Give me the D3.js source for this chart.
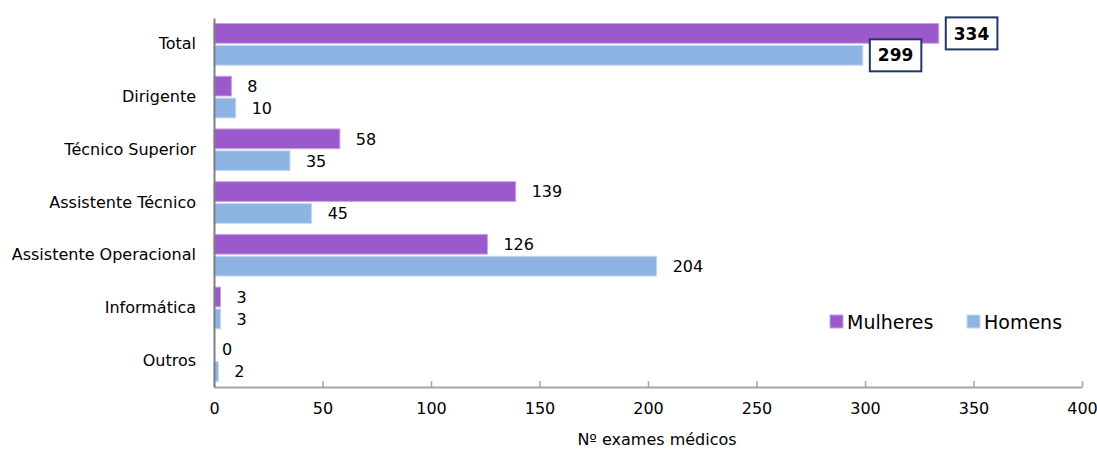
<!DOCTYPE html>
<html><head><meta charset="utf-8">
<script src="https://cdn.jsdelivr.net/npm/d3@7/dist/d3.min.js"></script>
<style>
body{margin:0;background:#fff;}
svg{display:block;font-family:"DejaVu Sans",sans-serif;}
</style></head>
<body><svg id="c" width="1097" height="453"></svg>
<script>
const categories = ["Total","Dirigente","Técnico Superior","Assistente Técnico","Assistente Operacional","Informática","Outros"];
const seriesNames = ["Mulheres","Homens"];
const mulheres = [334, 8, 58, 139, 126, 3, 0];
const homens = [299, 10, 35, 45, 204, 3, 2];
const xTicks = [0,50,100,150,200,250,300,350,400];
const axisTitle = "Nº exames médicos";
const colors = {Mulheres:"#9B59CC", Homens:"#8DB4E2"};
const strokes = {Mulheres:"#C7A3E3", Homens:"#C3D8F1"};

const svg = d3.select("#c");
const m = {left:214, right:1082, top:18, bottom:387};
const x = d3.scaleLinear().domain([0,400]).range([m.left, m.right]);
const y = d3.scaleBand().domain(categories).range([m.top, m.bottom]).paddingInner(0.21).paddingOuter(0.105);
const ys = d3.scaleBand().domain(seriesNames).range([0, y.bandwidth()]).paddingInner(0.1);

const rows = categories.map((c,i)=>({cat:c, vals:[{s:"Mulheres",v:mulheres[i]},{s:"Homens",v:homens[i]}]}));

// bars
const g = svg.append("g");
rows.forEach(r=>{
  r.vals.forEach(d=>{
    if(d.v>0){
      g.append("rect")
        .attr("x", x(0)).attr("y", y(r.cat)+ys(d.s))
        .attr("width", x(d.v)-x(0)).attr("height", ys.bandwidth())
        .attr("fill", colors[d.s]).attr("stroke", strokes[d.s]).attr("stroke-width",1);
    }
  });
});

// labels
rows.forEach(r=>{
  r.vals.forEach(d=>{
    const cy = y(r.cat)+ys(d.s)+ys.bandwidth()/2;
    if(r.cat==="Total"){
      const t = svg.append("text").attr("x", x(d.v)+15).attr("y", cy).attr("dy","0.36em")
        .attr("font-size",17).attr("font-weight","bold").attr("fill","#000").text(d.v);
      const bb = t.node().getBBox();
      svg.insert("rect", () => t.node()).attr("x", bb.x-8).attr("y", cy-16).attr("width", bb.width+16).attr("height", 32)
        .attr("fill","#fff").attr("stroke","#1F3864").attr("stroke-width",2);
    } else {
      svg.append("text").attr("x", x(d.v)+(d.v>0?16:8)).attr("y", cy).attr("dy","0.36em")
        .attr("font-size",16).attr("fill","#000").text(d.v);
    }
  });
});

// x axis
const xa = svg.append("g").attr("transform",`translate(0,${m.bottom})`)
  .call(d3.axisBottom(x).tickValues(xTicks).tickSize(-6).tickPadding(16).tickSizeOuter(0));
xa.select(".domain").attr("stroke","#A6A6A6").attr("stroke-width",2);
xa.selectAll(".tick line").attr("stroke","#A6A6A6").attr("stroke-width",1.5);
xa.selectAll("text").attr("font-size",16).attr("fill","#000").attr("font-family","DejaVu Sans");

// y axis
const ya = svg.append("g").attr("transform",`translate(${m.left},0)`)
  .call(d3.axisLeft(y).tickSize(0).tickPadding(18));
ya.select(".domain").attr("stroke","#808080").attr("stroke-width",2);
ya.selectAll("text").attr("font-size",16).attr("fill","#000").attr("font-family","DejaVu Sans");

// axis title
svg.append("text").attr("x", 657).attr("y", 445).attr("text-anchor","middle")
  .attr("font-size",16).attr("fill","#000").text(axisTitle);

// legend
const leg = svg.append("g");
const legX = [830, 967];
seriesNames.forEach((s,i)=>{
  leg.append("rect").attr("x", legX[i]).attr("y", 315).attr("width",13).attr("height",13)
    .attr("fill", colors[s]).attr("stroke", strokes[s]);
  leg.append("text").attr("x", legX[i]+17).attr("y", 322).attr("dy","0.36em")
    .attr("font-size",19).attr("fill","#000").text(s);
});
</script></body></html>
